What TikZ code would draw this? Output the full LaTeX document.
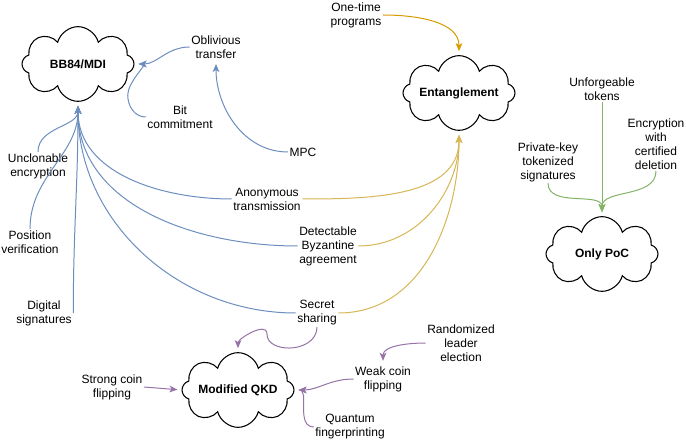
\documentclass[tikz,border=0pt]{standalone}
\usepackage{fontspec}
\setmainfont{Liberation Sans}
\usetikzlibrary{arrows.meta,shapes.symbols}
\definecolor{qBlue}{HTML}{6C8EBF}
\definecolor{qYel}{HTML}{D6B656}
\definecolor{qOra}{HTML}{D79B00}
\definecolor{qGrn}{HTML}{82B366}
\definecolor{qPur}{HTML}{9673A6}

\begin{document}
\begin{tikzpicture}[x=0.75pt,y=-0.75pt,font=\fontsize{9}{10.5}\selectfont,
  cl/.style={draw,line width=0.8pt,cloud,cloud puffs=8,cloud ignores aspect,minimum width=84pt,minimum height=56pt,inner sep=0pt,font=\fontsize{9}{10.5}\selectfont\bfseries},
  lb/.style={align=center,inner sep=1pt},
  ar/.style={-{Stealth[length=6pt,width=5pt,inset=1.5pt]},line width=0.75pt,shorten >=3pt}]
\useasboundingbox (0,0) rectangle (686,442);
\node[cl] (bb) at (78,64) {BB84/MDI};
\node[cl] (ent) at (459,93) {Entanglement};
\node[cl] (poc) at (602,254) {Only PoC};
\node[cl] (qkd) at (238,390) {Modified QKD};
\node[lb] (ot) at (216,47) {Oblivious\\transfer};
\node[lb] (bc) at (180,117) {Bit\\commitment};
\node[lb] (mpc) at (303,152) {MPC};
\node[lb] (otp) at (356,15) {One-time\\programs};
\node[lb] (ue) at (38,166) {Unclonable\\encryption};
\node[lb] (anon) at (267,199) {Anonymous\\transmission};
\node[lb] (pv) at (30,242) {Position\\verification};
\node[lb] (dba) at (328,246) {Detectable\\Byzantine\\agreement};
\node[lb] (ds) at (44,313) {Digital\\signatures};
\node[lb] (ss) at (317,313) {Secret\\sharing};
\node[lb] (uf) at (602,89) {Unforgeable\\tokens};
\node[lb] (ecd) at (656,144) {Encryption\\with\\certified\\deletion};
\node[lb] (pks) at (548,162) {Private-key\\tokenized\\signatures};
\node[lb] (rle) at (461,343) {Randomized\\leader\\election};
\node[lb] (wcf) at (383,379) {Weak coin\\flipping};
\node[lb] (scf) at (112,387) {Strong coin\\flipping};
\node[lb] (qf) at (350,427) {Quantum\\fingerprinting};
\draw[ar,qBlue] (ot.west) to[out=180,in=0] (bb.east);
\draw[ar,qBlue] (bc.west) to[out=180,in=-90] ++(-18,-22) to[out=90,in=0] (bb.east);
\draw[ar,qBlue] (mpc.west) to[out=180,in=-90] (ot.south);
\draw[ar,qBlue] (ue.north) to[out=90,in=-90] (bb.south);
\draw[ar,qBlue] (pv.north) to[out=90,in=-90] (bb.south);
\draw[ar,qBlue] (ds.east) to[out=90,in=-90] (bb.south);
\draw[ar,qBlue] (anon.west) to[out=180,in=-90] (bb.south);
\draw[ar,qBlue] (dba.west) to[out=180,in=-90] (bb.south);
\draw[ar,qBlue] (ss.west) to[out=180,in=-90] (bb.south);
\draw[ar,qYel] (anon.east) to[out=0,in=-90] (ent.south);
\draw[ar,qYel] (dba.east) to[out=0,in=-90] (ent.south);
\draw[ar,qYel] (ss.east) to[out=0,in=-90] (ent.south);
\draw[ar,qOra] (otp.east) to[out=0,in=90] (ent.north);
\draw[ar,qGrn] (uf.south) -- (poc.north);
\draw[ar,qGrn] (pks.south) to[out=-90,in=90] (poc.north);
\draw[ar,qGrn] (ecd.south) to[out=-90,in=90] (poc.north);
\draw[ar,qPur] (ss.south) to[out=-90,in=0] ++(-28,21) to[out=180,in=-90] ++(-22,-14) to[out=90,in=90] (qkd.north);
\draw[ar,qPur] (scf.east) -- (qkd.west);
\draw[ar,qPur] (wcf.west) to[out=180,in=0] (qkd.east);
\draw[ar,qPur] (qf.west) to[out=180,in=-90] ++(-10,-30) to[out=90,in=0] (qkd.east);
\draw[ar,qPur] (rle.west) to[out=180,in=90] (wcf.north);
\end{tikzpicture}
\end{document}
